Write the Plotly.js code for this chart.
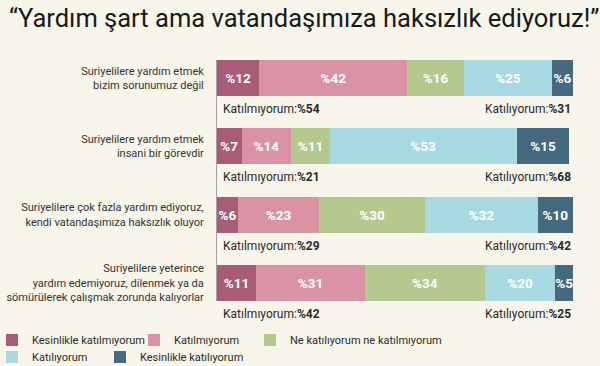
<!DOCTYPE html>
<html><head><meta charset="utf-8">
<script src="https://cdn.plot.ly/plotly-3.0.1.min.js"></script>
<style>html,body{margin:0;padding:0;background:#f8f5ea;}#chart{width:600px;height:366px;}</style>
</head><body><div id="chart"></div>
<script>
const categories = [
  "Suriyelilere yardım etmek<br>bizim sorunumuz değil",
  "Suriyelilere yardım etmek<br>insani bir görevdir",
  "Suriyelilere çok fazla yardım ediyoruz,<br>kendi vatandaşımıza haksızlık oluyor",
  "Suriyelilere yeterince<br>yardım edemiyoruz, dilenmek ya da<br>sömürülerek çalışmak zorunda kalıyorlar"
];
const seriesNames = ["Kesinlikle katılmıyorum","Katılmıyorum","Ne katılıyorum ne katılmıyorum","Katılıyorum","Kesinlikle katılıyorum"];
const kesinlikleKatilmiyorum = [12, 7, 6, 11];
const katilmiyorum = [42, 14, 23, 31];
const neNe = [16, 11, 30, 34];
const katiliyorum = [25, 53, 32, 20];
const kesinlikleKatiliyorum = [6, 15, 10, 5];
const totalDisagree = [54, 21, 29, 42];
const totalAgree = [31, 68, 42, 25];
const colors = ["#a85c78","#d993a5","#b5c98f","#a6d9e1","#456a7f"];

const values = [kesinlikleKatilmiyorum, katilmiyorum, neNe, katiliyorum, kesinlikleKatiliyorum];
const F = "Roboto, 'Noto Sans', sans-serif";
const legendIds = ["legend", "legend2", "legend3", "legend4", "legend5"];
const traces = values.map((v, i) => ({
  type: "bar", orientation: "h", name: seriesNames[i],
  y: categories.map((c, k) => k), x: v,
  marker: {color: colors[i], line: {width: 0}},
  text: v.map(n => "%" + n), textposition: "inside", insidetextanchor: "middle",
  constraintext: "none", textangle: 0,
  textfont: {family: F, size: 13.5, color: "#ffffff", weight: "bold"},
  hoverinfo: "none",
  legend: legendIds[i]
}));

const annotations = [];
categories.forEach((c, k) => {
  annotations.push({x: 0, y: k, xref: "x", yref: "y", xanchor: "left", yanchor: "middle", xshift: 4, yshift: -31,
    text: "Katılmıyorum:<b>%" + totalDisagree[k] + "</b>", showarrow: false, font: {family: F, size: 12, color: "#2a2a2a"}});
  annotations.push({x: 101, y: k, xref: "x", yref: "y", xanchor: "right", yanchor: "middle", xshift: 0, yshift: -31,
    text: "Katılıyorum:<b>%" + totalAgree[k] + "</b>", showarrow: false, font: {family: F, size: 12, color: "#2a2a2a"}});
});

const layout = {
  width: 600, height: 366,
  paper_bgcolor: "#f8f5ea", plot_bgcolor: "#f8f5ea",
  margin: {l: 217, r: 27, t: 60, b: 65, autoexpand: false},
  barmode: "stack", bargap: 0.47,
  title: {text: "“Yardım şart ama vatandaşımıza haksızlık ediyoruz!”", x: 0.015, xanchor: "left", y: 0.95, yanchor: "middle",
    font: {family: F, size: 25.5, color: "#1a1a1a"}},
  xaxis: {range: [0, 101], showgrid: false, zeroline: false, showticklabels: false, showline: false, fixedrange: true, automargin: false},
  yaxis: {type: "linear", range: [3.265, -0.265], tickmode: "array", tickvals: [0,1,2,3], ticktext: categories, automargin: false,
    showgrid: false, zeroline: false, showline: true, linecolor: "#a0a0a0", linewidth: 1, ticks: "", ticklabelstandoff: 10,
    tickfont: {family: F, size: 11, color: "#333333"}},
  annotations: annotations,
  showlegend: true
};
// legend box left edge (px) and row center (px) for each item
const legendPos = [[-8, 340], [134, 340], [250, 340], [-8, 357], [100, 357]];
const plotW = 600 - 217 - 27, plotH = 366 - 60 - 65;
legendIds.forEach((id, i) => {
  layout[id] = {orientation: "h", xanchor: "left", yanchor: "middle", xref: "paper", yref: "paper",
    x: (legendPos[i][0] - 217) / plotW, y: (366 - 65 - legendPos[i][1]) / plotH,
    bgcolor: "rgba(0,0,0,0)", font: {family: F, size: 11, color: "#2a2a2a"}, itemwidth: 30};
});

Plotly.newPlot("chart", traces, layout, {displayModeBar: false, staticPlot: true});
</script>
</body></html>
